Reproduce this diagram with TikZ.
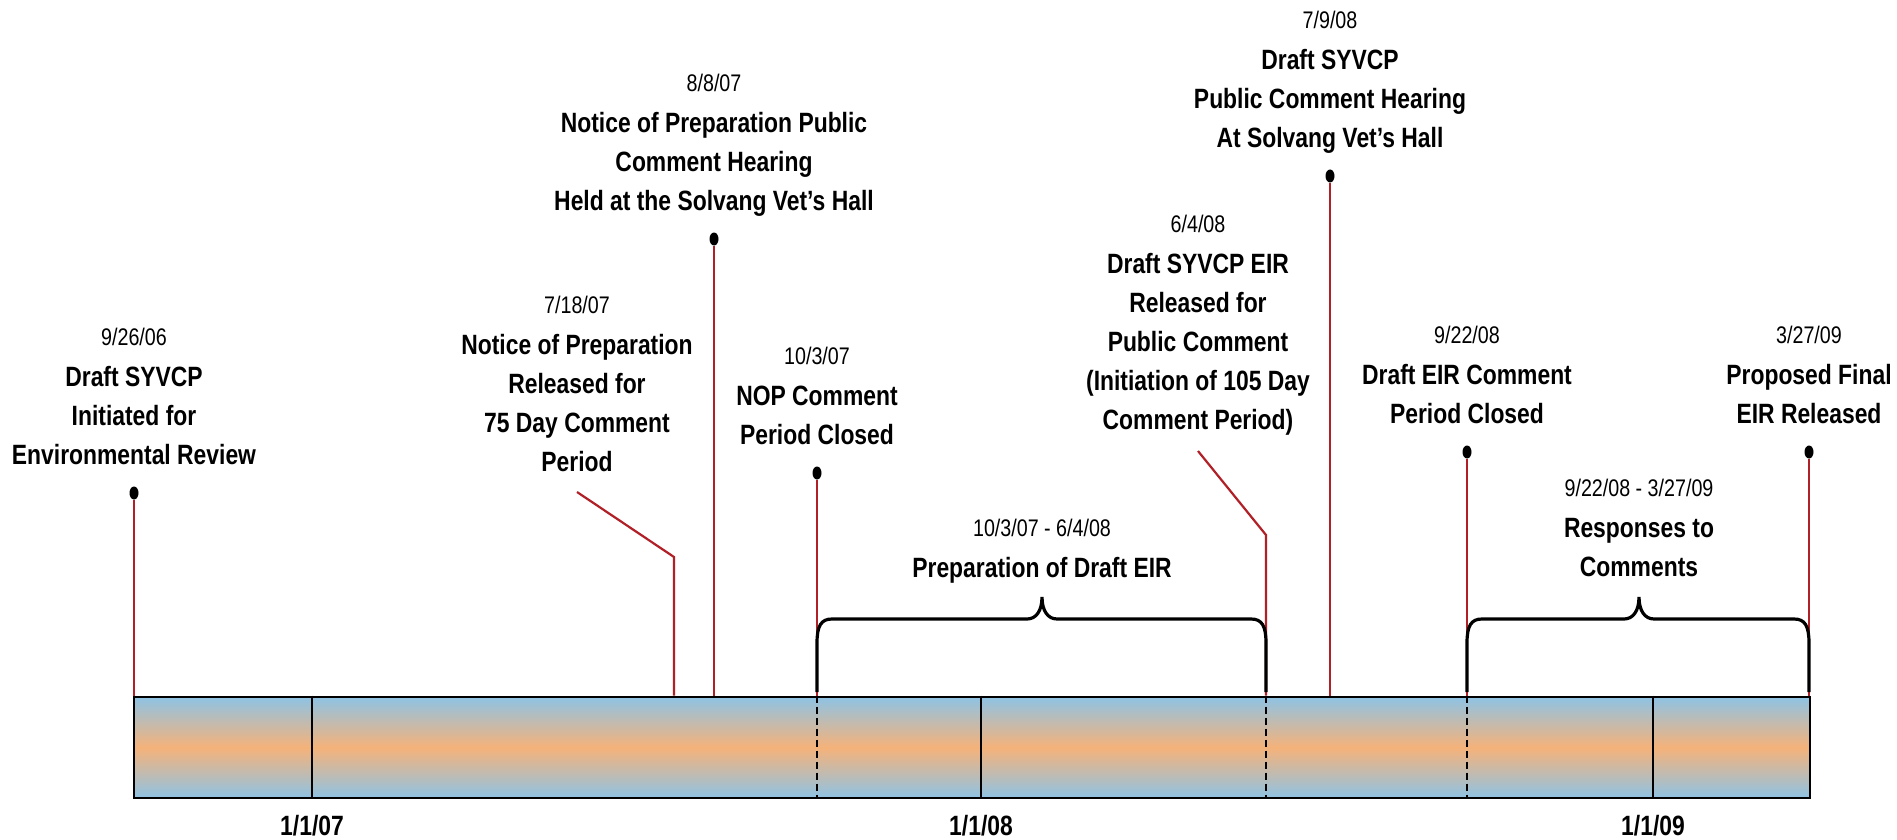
\documentclass[tikz,border=0pt]{standalone}
\usepackage{fontspec}
\newfontfamily\tlfont{Liberation Sans}[FakeStretch=0.82]
\newcommand\tlhead{\tlfont\bfseries\fontsize{13.95}{19.5}\selectfont}
\newcommand\tldate{\tlfont\mdseries\fontsize{12}{19.5}\selectfont}
\usepackage{tikz}
\usetikzlibrary{positioning, shapes.geometric}
\usepackage{xcolor}
\definecolor{stemred}{RGB}{176,32,38}
\definecolor{barblue}{RGB}{142,195,228}
\definecolor{barorange}{RGB}{245,178,122}

\begin{document}
\begin{tikzpicture}[
        x=0.5pt, y=-0.5pt,
        node distance=10.75pt,
        evtext/.style={
            align=center,
            font=\tlhead,
            inner sep=0pt,
            text depth=0pt
        },
        evdot/.style={
            ellipse,
            fill=black,
            minimum width=4.5pt,
            minimum height=6.5pt,
            inner sep=0pt
        },
        stem/.style={
            stemred,
            line width=1.1pt
        },
        bar/.style={
            rectangle,
            draw=black,
            line width=1.3pt,
            top color=barblue,
            bottom color=barblue,
            middle color=barorange,
            minimum width=838pt,
            minimum height=50.5pt,
            inner sep=0pt
        },
        divider/.style={
            black,
            line width=0.9pt
        },
        dashdiv/.style={
            divider,
            dash pattern=on 3.5pt off 2pt
        },
        brace/.style={
            black,
            line width=1.6pt
        },
        yearlbl/.style={
            font=\tlhead,
            inner sep=0pt
        }
    ]

        \useasboundingbox (0,0) rectangle (1897,840);

        % time bar
        \node[bar] (bar) at (972,747.5) {};

        \node[yearlbl] (y07) at (312,826) {1/1/07};
        \node[yearlbl] (y08) at (981,826) {1/1/08};
        \node[yearlbl] (y09) at (1653,826) {1/1/09};

        % events
        \node[evdot] (dInit) at (134,493) {};
        \node[evtext, above=of dInit] (tInit) {{\tldate 9/26/06}\\[1pt]Draft SYVCP\\Initiated for\\Environmental Review};

        \node[evtext, anchor=south] (tNopRel) at (577,472) {{\tldate 7/18/07}\\[1pt]Notice of Preparation\\Released for\\75 Day Comment\\Period};
        \coordinate (kNopRel) at (674,557);

        \node[evdot] (dNopHear) at (714,239) {};
        \node[evtext, above=of dNopHear] (tNopHear) {{\tldate 8/8/07}\\[1pt]Notice of Preparation Public\\Comment Hearing\\Held at the Solvang Vet’s Hall};

        \node[evdot] (dNopClose) at (817,473) {};
        \node[evtext, above=of dNopClose] (tNopClose) {{\tldate 10/3/07}\\[1pt]NOP Comment\\Period Closed};

        \node[evtext, anchor=south] (tDeirRel) at (1198,430) {{\tldate 6/4/08}\\[1pt]Draft SYVCP EIR\\Released for\\Public Comment\\(Initiation of 105 Day\\Comment Period)};
        \coordinate (kDeirRel) at (1266,535);

        \node[evdot] (dDeirHear) at (1330,176) {};
        \node[evtext, above=of dDeirHear] (tDeirHear) {{\tldate 7/9/08}\\[1pt]Draft SYVCP\\Public Comment Hearing\\At Solvang Vet’s Hall};

        \node[evdot] (dDeirClose) at (1467,452) {};
        \node[evtext, above=of dDeirClose] (tDeirClose) {{\tldate 9/22/08}\\[1pt]Draft EIR Comment\\Period Closed};

        \node[evdot] (dFinal) at (1809,452) {};
        \node[evtext, above=of dFinal] (tFinal) {{\tldate 3/27/09}\\[1pt]Proposed Final\\EIR Released};

        % periods
        \coordinate (prepTip) at (1042,597);
        \node[evtext, above=9.5pt of prepTip] (prepLbl) {{\tldate 10/3/07 - 6/4/08}\\[1pt]Preparation of Draft EIR};
        \coordinate (respTip) at (1639,597);
        \node[evtext, above=10pt of respTip] (respLbl) {{\tldate 9/22/08 - 3/27/09}\\[1pt]Responses to\\Comments};

        % year marks and period marks on the bar
        \foreach \y in {y07, y08, y09}
            \draw[divider] (\y |- bar.north) -- (\y |- bar.south);
        \foreach \d in {dNopClose, kDeirRel, dDeirClose}
            \draw[dashdiv] (\d |- bar.north) -- (\d |- bar.south);

        % stems
        \foreach \d in {dInit, dNopHear, dNopClose, dDeirHear, dDeirClose, dFinal}
            \draw[stem] (\d) -- (\d |- bar.north);
        \draw[stem] ([yshift=-10pt]tNopRel.south) -- (kNopRel) -- (kNopRel |- bar.north);
        \draw[stem] ([yshift=-10.5pt]tDeirRel.south) -- (kDeirRel) -- (kDeirRel |- bar.north);

        % braces
        \foreach \l/\t/\r in {817/1042/1266, 1467/1639/1809}
            \draw[brace] (\l,692) -- (\l,643) .. controls (\l,626) and (\l+4,619) .. (\l+15,619)
                -- (\t-15,619) .. controls (\t-6,619) and (\t,611) .. (\t,597)
                .. controls (\t,611) and (\t+6,619) .. (\t+15,619)
                -- (\r-15,619) .. controls (\r-4,619) and (\r,626) .. (\r,643) -- (\r,692);

    \end{tikzpicture}
\end{document}
